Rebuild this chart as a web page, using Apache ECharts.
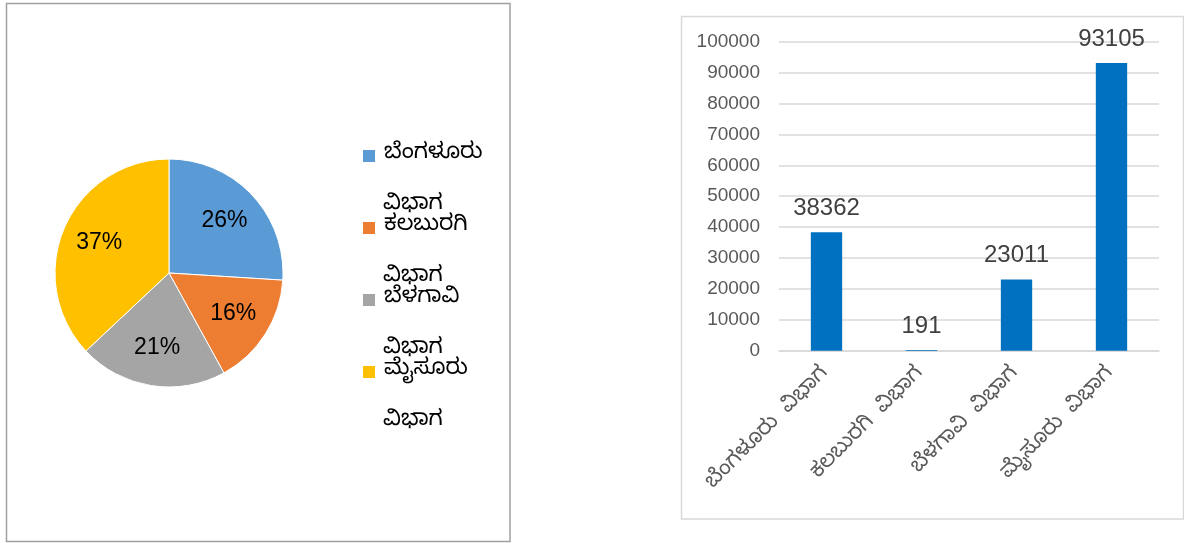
<!DOCTYPE html>
<html>
<head>
<meta charset="utf-8">
<script src="https://cdn.jsdelivr.net/npm/echarts@6/dist/echarts.min.js"></script>
<style>
  html, body { margin: 0; padding: 0; background: #fff; }
  #chart { width: 1184px; height: 543px; }
</style>
</head>
<body>
<div id="chart"></div>
<script>
// ಪೈ ಚಾರ್ಟ್ ಡೇಟಾ (ಶೇಕಡಾ)
const divisions = ['ಬೆಂಗಳೂರು ವಿಭಾಗ', 'ಕಲಬುರಗಿ ವಿಭಾಗ', 'ಬೆಳಗಾವಿ ವಿಭಾಗ', 'ಮೈಸೂರು ವಿಭಾಗ'];
const pieShares = [26, 16, 21, 37];
const pieColors = ['#5B9BD5', '#ED7D31', '#A5A5A5', '#FFC000'];
// ಬಾರ್ ಚಾರ್ಟ್ ಡೇಟಾ
const barValues = [38362, 191, 23011, 93105];
const yTicks = { min: 0, max: 100000, interval: 10000 };

const fontKn = "'Noto Sans Kannada', 'Noto Sans', 'DejaVu Sans', sans-serif";
const fontNum = "'Liberation Sans', 'Noto Sans', sans-serif";

// legend layout: each entry wraps, second word drops below the name
const legendLeft = 361;
const legendTop = 144;
const legendStep = 72;
const legendLine = 24;
const wrapDrop = 52;
const legendFont = 22;

const pieData = divisions.map((name, i) => ({
  name: name,
  value: pieShares[i],
  itemStyle: { color: pieColors[i] }
}));

// second word of every legend entry, drawn as its own line
const wrapTexts = divisions.map((name, i) => ({
  type: 'text',
  left: legendLeft + 14 + 8,
  top: legendTop + i * legendStep + wrapDrop,
  silent: true,
  style: {
    text: name.split(' ')[1],
    fontSize: legendFont,
    fontFamily: fontKn,
    fill: '#000'
  }
}));

const chart = echarts.init(document.getElementById('chart'));

chart.setOption({
  animation: false,
  graphic: [
    {
      type: 'rect',
      shape: { x: 6.5, y: 3.5, width: 503.5, height: 538 },
      style: { fill: 'none', stroke: '#a0a0a0', lineWidth: 1.5 },
      silent: true
    },
    {
      type: 'rect',
      shape: { x: 681.5, y: 16.5, width: 502, height: 502.5 },
      style: { fill: 'none', stroke: '#d9d9d9', lineWidth: 1.5 },
      silent: true
    }
  ].concat(wrapTexts),
  legend: {
    orient: 'vertical',
    left: legendLeft,
    top: legendTop,
    padding: 0,
    itemWidth: 14,
    itemHeight: 14,
    itemGap: legendStep - legendLine,
    icon: 'rect',
    data: divisions,
    formatter: function (name) {
      return name.split(' ')[0];
    },
    textStyle: {
      fontSize: legendFont,
      lineHeight: legendLine,
      fontFamily: fontKn,
      color: '#000',
      padding: [0, 0, 0, 3]
    }
  },
  grid: {
    left: 779,
    right: 25,
    top: 41.7,
    bottom: 192.3
  },
  xAxis: {
    type: 'category',
    data: divisions,
    axisLine: { lineStyle: { color: '#d9d9d9', width: 1.5 } },
    axisTick: { show: false },
    axisLabel: {
      interval: 0,
      rotate: 45,
      margin: 21,
      fontSize: 21,
      fontFamily: fontKn,
      color: '#595959',
      formatter: function (v) {
        return v.replace(' ', '  ');
      }
    }
  },
  yAxis: {
    type: 'value',
    min: yTicks.min,
    max: yTicks.max,
    interval: yTicks.interval,
    axisLine: { show: false },
    axisTick: { show: false },
    splitLine: { lineStyle: { color: '#d9d9d9', width: 1.5 } },
    axisLabel: {
      margin: 19,
      fontSize: 19,
      fontFamily: fontNum,
      color: '#595959',
      formatter: function (v) {
        return String(v);
      }
    }
  },
  series: [
    {
      name: 'pie',
      type: 'pie',
      center: [169, 273],
      radius: 114,
      startAngle: 90,
      clockwise: true,
      data: pieData,
      itemStyle: { borderColor: '#fff', borderWidth: 1 },
      label: { show: false },
      labelLine: { show: false },
      silent: true
    },
    {
      // transparent copy, only to put the % labels a bit further out
      name: 'pieLabels',
      type: 'pie',
      center: [169, 273],
      radius: 146,
      startAngle: 90,
      clockwise: true,
      data: pieShares.map((v, i) => ({ name: divisions[i], value: v })),
      itemStyle: { color: 'rgba(0,0,0,0)' },
      label: {
        show: true,
        position: 'inside',
        formatter: '{d}%',
        fontSize: 23,
        fontFamily: fontNum,
        color: '#000'
      },
      labelLine: { show: false },
      silent: true
    },
    {
      name: 'bar',
      type: 'bar',
      data: barValues,
      barWidth: '33%',
      itemStyle: { color: '#0070C0' },
      label: {
        show: true,
        position: 'top',
        distance: 12,
        fontSize: 24,
        fontFamily: fontNum,
        color: '#404040'
      }
    }
  ]
});
</script>
</body>
</html>
